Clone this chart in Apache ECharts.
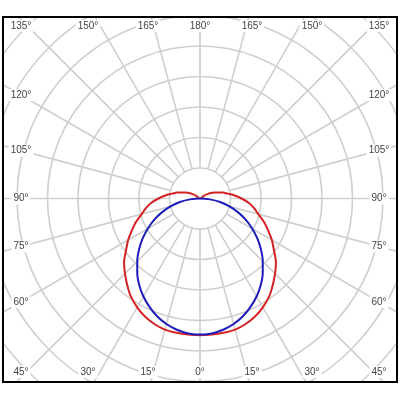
<!DOCTYPE html>
<html>
<head>
<meta charset="utf-8">
<script src="https://cdn.jsdelivr.net/npm/echarts@6/dist/echarts.min.js"></script>
<style>
html,body{margin:0;padding:0;background:#fff;}
#chart{width:400px;height:400px;}
</style>
</head>
<body>
<div id="chart"></div>
<script>
// Angles (degrees from nadir) of the measured half-plane
const angles = [0,5,10,15,20,25,30,35,40,45,50,55,60,65,70,75,80,85,90,95,100,105,110,115,120,125,130,135,140,145,150,155,160,165,170,175,180];
// Red curve intensities (ring = 100 units)
const redHalf = [448,448,447,445,438,427,412,394,371,348,325,296,272,246,223,198,180,160,136,114,92,77,57,44,30,15,0,0,0,0,0,0,0,0,0,0,0];
// Blue curve intensities
const blueHalf = [446,444,437,426,411,392,371,347,320,291,261,230,198,166,133,100,67,33,0,0,0,0,0,0,0,0,0,0,0,0,0,0,0,0,0,0,0];
// Angle grid ticks
const angleTicks = [0,15,30,45,60,75,90,105,120,135,150,165,180,195,210,225,240,255,270,285,300,315,330,345];
const ringStep = 100, ringCount = 9;

const cx = 200, cy = 198.5, ringPx = 30.5;

function fullLoop(half) {
  const out = [];
  for (let i = 0; i < angles.length; i++) out.push([half[i], angles[i]]);
  for (let i = angles.length - 2; i >= 0; i--) out.push([half[i], 360 - angles[i]]);
  return out;
}

const labelStyle = { fontFamily: 'Liberation Sans', fontSize: 10, fill: '#444' };
const labels = angleTicks.map(t => {
  const a = t * Math.PI / 180;
  const dx = -Math.sin(a), dy = Math.cos(a);
  const tx = Math.abs(dx) > 1e-6 ? 179 / Math.abs(dx) : Infinity;
  const ty = Math.abs(dy) > 1e-6 ? 194 / Math.abs(dy) : Infinity;
  const s = Math.min(tx, ty);
  let x = cx + dx * s, y = cy + dy * s;
  x = Math.max(16, Math.min(384, x));
  y = Math.max(26, Math.min(372, y));
  return {
    type: 'text', z: 50, x: x, y: y,
    style: Object.assign({
      text: (t <= 180 ? t : 360 - t) + '°',
      align: 'center', verticalAlign: 'middle',
      backgroundColor: '#fff', padding: [1, 2]
    }, labelStyle)
  };
});

const chart = echarts.init(document.getElementById('chart'), null, { renderer: 'canvas' });
chart.setOption({
  animation: false,
  backgroundColor: '#fff',
  polar: [
    { center: [cx, cy], radius: [ringPx, ringPx * ringCount] },
    { center: [cx, cy], radius: [0, ringPx * ringCount] }
  ],
  angleAxis: [
    {
      polarIndex: 0, type: 'value', min: 0, max: 360, interval: 15,
      startAngle: 270, clockwise: true,
      axisLine: { show: false }, axisTick: { show: false }, axisLabel: { show: false },
      splitLine: { show: true, lineStyle: { color: '#cfcfcf', width: 1.6 } }
    },
    {
      polarIndex: 1, type: 'value', min: 0, max: 360,
      startAngle: 270, clockwise: true,
      axisLine: { show: false }, axisTick: { show: false }, axisLabel: { show: false },
      splitLine: { show: false }
    }
  ],
  radiusAxis: [
    {
      polarIndex: 0, type: 'value', min: 1, max: ringCount, interval: 1,
      axisLine: { show: false }, axisTick: { show: false }, axisLabel: { show: false },
      splitLine: { show: true, lineStyle: { color: '#cfcfcf', width: 1.6 } }
    },
    {
      polarIndex: 1, type: 'value', min: 0, max: ringStep * ringCount,
      axisLine: { show: false }, axisTick: { show: false }, axisLabel: { show: false },
      splitLine: { show: false }
    }
  ],
  series: [
    {
      type: 'line', coordinateSystem: 'polar', polarIndex: 1,
      data: fullLoop(redHalf), showSymbol: false, smooth: 0.3,
      lineStyle: { color: '#d42222', width: 2 }, z: 5
    },
    {
      type: 'line', coordinateSystem: 'polar', polarIndex: 1,
      data: fullLoop(blueHalf), showSymbol: false, smooth: 0.3,
      lineStyle: { color: '#1c1cba', width: 2 }, z: 6
    }
  ],
  graphic: {
    elements: labels.concat([
      { type: 'rect', z: 60, shape: { x: 0, y: 0, width: 400, height: 16 }, style: { fill: '#fff' } },
      { type: 'rect', z: 60, shape: { x: 0, y: 383, width: 400, height: 17 }, style: { fill: '#fff' } },
      { type: 'rect', z: 60, shape: { x: 0, y: 0, width: 2, height: 400 }, style: { fill: '#fff' } },
      { type: 'rect', z: 60, shape: { x: 398, y: 0, width: 2, height: 400 }, style: { fill: '#fff' } },
      { type: 'rect', z: 70, shape: { x: 3, y: 17, width: 394, height: 365 },
        style: { fill: 'none', stroke: '#000', lineWidth: 2 } }
    ])
  }
});
</script>
</body>
</html>
